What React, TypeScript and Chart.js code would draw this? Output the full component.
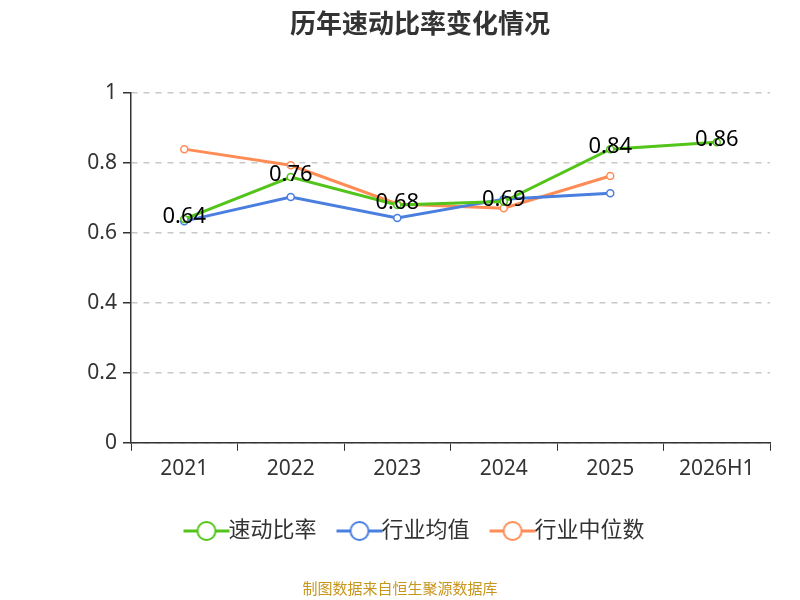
import React, { useEffect, useRef } from "react";
import { Chart, registerables } from "chart.js";
Chart.register(...registerables);

const categories = ["2021", "2022", "2023", "2024", "2025", "2026H1"];
const quickRatio = [0.64, 0.76, 0.68, 0.69, 0.84, 0.86];
const industryAvg = [0.634, 0.703, 0.643, 0.697, 0.714, null];
const industryMedian = [0.84, 0.794, 0.683, 0.671, 0.763, null];
const seriesNames = ["速动比率", "行业均值", "行业中位数"];
const colors = ["#52c41a", "#4a7fe0", "#ff8c55"];

function legendIcon(color: string) {
  const c = document.createElement("canvas");
  c.width = 48; c.height = 22;
  const g = c.getContext("2d")!;
  g.strokeStyle = color; g.lineWidth = 3;
  g.beginPath(); g.moveTo(1, 11); g.lineTo(47, 11); g.stroke();
  g.fillStyle = "#fff"; g.lineWidth = 2;
  g.beginPath(); g.arc(24, 11, 9, 0, Math.PI * 2); g.fill(); g.stroke();
  return c;
}

export default function App() {
  const ref = useRef<HTMLCanvasElement>(null);
  useEffect(() => {
    const font = "'Noto Sans', 'Noto Sans CJK SC', sans-serif";
    const labelPlugin = {
      id: "labels",
      afterDatasetsDraw(chart: any) {
        const ctx = chart.ctx;
        const meta = chart.getDatasetMeta(0);
        ctx.save();
        ctx.font = `22px ${font}`;
        ctx.fillStyle = "#000";
        ctx.textAlign = "center";
        ctx.textBaseline = "middle";
        meta.data.forEach((p: any, i: number) => {
          ctx.fillText(quickRatio[i].toFixed(2), p.x, p.y - 2);
        });
        ctx.fillStyle = "#c8961e";
        ctx.font = `15px ${font}`;
        ctx.fillText("制图数据来自恒生聚源数据库", 400, 590);
        ctx.restore();
      },
    };
    const mk = (i: number, data: any[]) => ({
      label: seriesNames[i],
      data,
      borderColor: colors[i],
      backgroundColor: "#fff",
      borderWidth: 3,
      pointRadius: 3.5,
      pointBorderWidth: 1.5,
      pointBackgroundColor: "#fff",
      pointBorderColor: colors[i],
      tension: 0,
    });
    const chart = new Chart(ref.current!, {
      type: "line",
      data: {
        labels: categories,
        datasets: [mk(0, quickRatio), mk(1, industryAvg), mk(2, industryMedian)],
      },
      plugins: [labelPlugin],
      options: {
        animation: false,
        responsive: false,
        layout: { padding: { left: 70, right: 30, top: 10, bottom: 48 } },
        plugins: {
          title: {
            display: true,
            text: "历年速动比率变化情况",
            color: "#333",
            font: { size: 26, weight: "bold", family: font },
            padding: { top: 0, bottom: 52 },
          },
          legend: {
            position: "bottom",
            labels: {
              color: "#333",
              font: { size: 22, family: font },
              usePointStyle: true,
              padding: 32,
              generateLabels: () =>
                seriesNames.map((n, i) => ({
                  text: n,
                  pointStyle: legendIcon(colors[i]) as any,
                  fillStyle: colors[i],
                  strokeStyle: colors[i],
                  fontColor: "#333",
                  datasetIndex: i,
                  hidden: false,
                  lineWidth: 0,
                })),
            },
          },
          tooltip: { enabled: false },
        },
        scales: {
          x: {
            offset: true,
            grid: { offset: true, drawOnChartArea: false, color: "#333", tickLength: 8 },
            border: { color: "#333", width: 1.5 },
            ticks: { color: "#333", font: { size: 21, family: font }, padding: 6 },
          },
          y: {
            min: 0, max: 1,
            afterFit: (s: any) => { s.width = 61; },
            ticks: {
              stepSize: 0.2, color: "#333", font: { size: 21, family: font }, padding: 6,
              callback: (v: any) => String(Math.round(v * 10) / 10),
            },
            grid: { color: "#c8c8c8", lineWidth: 1.5, tickLength: 8, tickColor: "#333" },
            border: { color: "#333", width: 1.5, dash: [6, 6] },
          },
        },
      } as any,
    });
    return () => chart.destroy();
  }, []);
  return (
    <div style={{ position: "absolute", left: 0, top: 0, width: 800, height: 600, background: "#fff" }}>
      <canvas ref={ref} width={800} height={600} />
    </div>
  );
}
